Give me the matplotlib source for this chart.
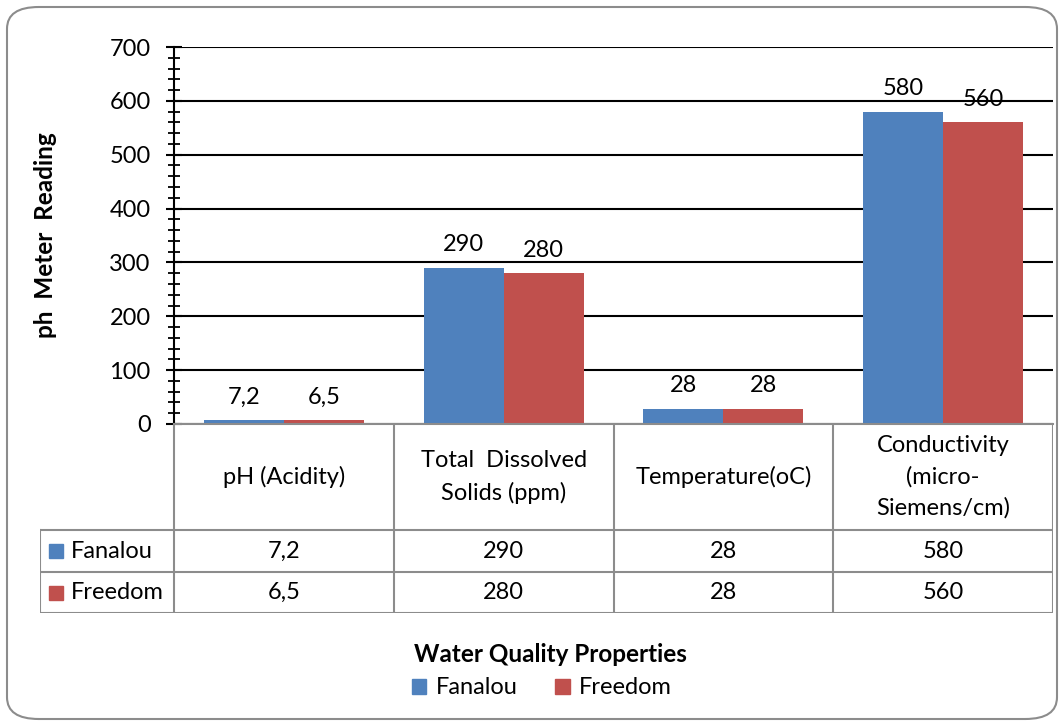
import matplotlib.pyplot as plt
from matplotlib.patches import FancyBboxPatch, Rectangle
from matplotlib.ticker import MultipleLocator

plt.rcParams['font.family'] = ['Lato', 'DejaVu Sans']

categories = ['pH (Acidity)', 'Total  Dissolved\nSolids (ppm)', 'Temperature(oC)',
              'Conductivity\n(micro-\nSiemens/cm)']
series_names = ['Fanalou', 'Freedom']
fanalou = [7.2, 290, 28, 580]
freedom = [6.5, 280, 28, 560]
colors = ['#4F81BD', '#C0504D']


def fmt(v):
    # decimal comma, as in the source sheet
    return ('%g' % v).replace('.', ',')


W, H = 1061, 726
FS = 17
fig = plt.figure(figsize=(W / 100, H / 100), dpi=100, facecolor='white')

# rounded chart border
fig.patches.append(FancyBboxPatch((7 / W, 7 / H), 1050 / W, 712 / H,
                                  boxstyle='round,pad=0,rounding_size=0.03',
                                  transform=fig.transFigure, fc='none',
                                  ec='#8c8c8c', lw=1.5))

x_left, x_right = 174, 1053
y_top, y_zero = 47, 424
ax = fig.add_axes([x_left / W, 1 - y_zero / H, (x_right - x_left) / W, (y_zero - y_top) / H])
ax.patch.set_alpha(0)

x = range(len(categories))
col_w = (x_right - x_left) / len(categories)
bw = 0.364
for i, (vals, c) in enumerate(zip([fanalou, freedom], colors)):
    pos = [k + (i - 0.5) * bw for k in x]
    ax.bar(pos, vals, width=bw, color=c, zorder=2)
    for p, v in zip(pos, vals):
        ax.annotate(fmt(v), (p, v), xytext=(0, 9), textcoords='offset points',
                    ha='center', va='bottom', fontsize=FS, zorder=3)

ax.set_xlim(-0.5, len(categories) - 0.5)
ax.set_ylim(0, 700)
ax.yaxis.set_major_locator(MultipleLocator(100))
ax.yaxis.set_minor_locator(MultipleLocator(20))
ax.grid(axis='y', color='black', lw=1.5, zorder=0)
ax.set_axisbelow(True)
ax.tick_params(axis='y', which='major', direction='inout', length=11.5, width=1.5,
               labelsize=FS, pad=11)
ax.tick_params(axis='y', which='minor', direction='inout', length=8.5, width=1.3)
ax.set_xticks([])
for s in ['top', 'right']:
    ax.spines[s].set_visible(False)
ax.spines['left'].set_linewidth(1.5)
ax.spines['bottom'].set_color('#8c8c8c')
ax.spines['bottom'].set_linewidth(1.5)
ax.set_ylabel('ph  Meter  Reading', fontsize=17.5, fontweight='bold')
ax.yaxis.set_label_coords(-(x_left - 57) / (x_right - x_left), 0.5)

# data table under the plot, sharing the category positions
t_left, t_bottom = 40, 613
row_lines = [106, 148, 189]
tab = fig.add_axes([t_left / W, 1 - t_bottom / H, (x_right - t_left) / W, (t_bottom - y_zero) / H])
tab.set_xlim(-0.5 - (x_left - t_left) / col_w, len(categories) - 0.5)
tab.set_ylim(t_bottom - y_zero, 0)
tab.axis('off')
gray = '#8c8c8c'
n = len(categories)
for k in range(n + 1):
    tab.plot([k - 0.5, k - 0.5], [0, row_lines[-1]], color=gray, lw=1.5)
x0 = tab.get_xlim()[0]
tab.plot([x0, x0], [row_lines[0], row_lines[-1]], color=gray, lw=1.5)
for yy in row_lines:
    tab.plot([x0, n - 0.5], [yy, yy], color=gray, lw=1.5)

for k, cat in enumerate(categories):
    tab.text(k, row_lines[0] / 2, cat, ha='center', va='center', fontsize=FS, linespacing=1.55)
px = 1 / col_w
for r, (name, vals, c) in enumerate(zip(series_names, [fanalou, freedom], colors)):
    yc = (row_lines[r] + row_lines[r + 1]) / 2
    tab.add_patch(Rectangle((x0 + 9 * px, yc - 7), 14 * px, 14, color=c))
    tab.text(x0 + 31 * px, yc, name, ha='left', va='center', fontsize=FS)
    for k, v in enumerate(vals):
        tab.text(k, yc, fmt(v), ha='center', va='center', fontsize=FS)

fig.text(550 / W, 1 - 654 / H, 'Water Quality Properties', ha='center', va='center',
         fontsize=17.5, fontweight='bold')
handles = [Rectangle((0, 0), 1, 1, color=c) for c in colors]
fig.legend(handles, series_names, loc='center', bbox_to_anchor=(542 / W, 1 - 688 / H),
           ncol=2, frameon=False, fontsize=FS, handlelength=0.6, handleheight=0.6,
           handletextpad=0.4, columnspacing=1.6)

fig.savefig('out.png', dpi=100)
